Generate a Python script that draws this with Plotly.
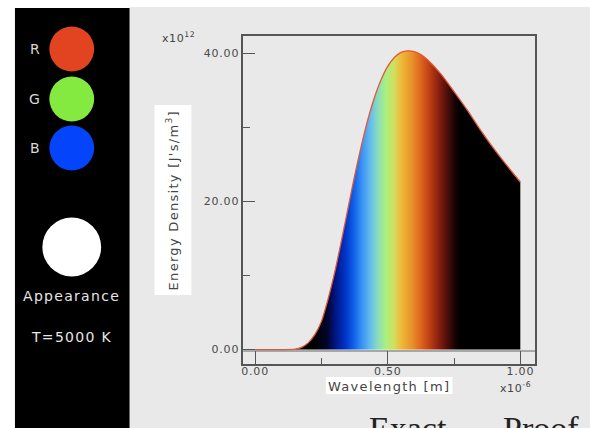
import plotly.graph_objects as go

# ---- data ----
wavelength = [0.00, 0.05, 0.10, 0.15, 0.175, 0.20, 0.225, 0.25, 0.275, 0.30, 0.325, 0.35,
              0.375, 0.40, 0.425, 0.45, 0.475, 0.50, 0.525, 0.55, 0.575, 0.60, 0.625,
              0.65, 0.70, 0.75, 0.80, 0.85, 0.90, 0.95, 1.00]          # x 1e-6 m
energy = [0.0, 0.0, 0.0, 0.05, 0.3, 0.9, 2.0, 3.8, 6.8, 10.4, 14.6, 19.0,
          23.4, 27.4, 31.0, 34.0, 36.4, 38.2, 39.4, 40.1, 40.3, 40.2, 39.8,
          39.1, 37.2, 34.8, 32.3, 29.6, 27.1, 24.8, 22.6]              # x 1e12
x_tickvals = [0.0, 0.5, 1.0]
x_ticktext = ["0.00", "0.50", "1.00"]
y_tickvals = [0, 20, 40]
y_ticktext = ["0.00", "20.00", "40.00"]
temperature_label = "T=5000 K"

W, H = 590, 428
def px(x): return x / W
def py(y): return 1 - y / H

def sp(t, ls=1.2):
    return f'<span style="letter-spacing:{ls}px">{t}</span>'

spectrum = [
    [0.00, "#000000"], [0.22, "#000000"], [0.27, "#000528"], [0.30, "#001480"],
    [0.34, "#0035c8"], [0.37, "#1060e8"], [0.40, "#3890f5"], [0.43, "#60b8f0"],
    [0.46, "#88dcc0"], [0.49, "#a8f080"], [0.52, "#d0e060"], [0.55, "#f0b838"],
    [0.59, "#e89028"], [0.62, "#e06820"], [0.66, "#b83a12"], [0.69, "#882010"],
    [0.72, "#501008"], [0.75, "#180404"], [0.77, "#000000"], [1.00, "#000000"],
]

fig = go.Figure()
fig.add_trace(go.Scatter(
    x=wavelength, y=energy, mode="lines",
    line=dict(color="#e2583a", width=1.3, shape="spline", smoothing=0.8),
    fill="tozeroy",
    fillgradient=dict(type="horizontal", colorscale=spectrum, start=0, stop=1),
    hoverinfo="skip", showlegend=False,
))

tickfont = dict(family="DejaVu Sans", size=11, color="#4a4a4a")
fig.update_xaxes(
    domain=[px(242), px(535)], range=[-0.045, 1.056],
    showline=True, linecolor="#555555", linewidth=1.5, mirror=True,
    ticks="inside", ticklen=13, tickwidth=1, tickcolor="#555555",
    tickvals=x_tickvals, ticktext=[sp(t, 0.8) for t in x_ticktext], tickfont=tickfont,
    ticklabelstandoff=-4,
    minor=dict(ticks="inside", ticklen=6, tickcolor="#555555", tickvals=[0.25, 0.75]),
    showgrid=False, zeroline=False,
)
fig.update_yaxes(
    domain=[py(364), py(36)], range=[-1.95, 42.3],
    showline=True, linecolor="#555555", linewidth=1.5, mirror=True,
    ticks="inside", ticklen=12, tickwidth=1, tickcolor="#555555",
    tickvals=y_tickvals, ticktext=[sp(t, 0.8) for t in y_ticktext], tickfont=tickfont,
    minor=dict(ticks="inside", ticklen=7, tickcolor="#555555", tickvals=[10, 30]),
    showgrid=False, zeroline=False,
)

shapes = [
    dict(type="rect", xref="paper", yref="paper", x0=px(128), x1=1, y0=0, y1=py(7),
         fillcolor="#e9e9e9", line=dict(width=0), layer="below"),
    dict(type="rect", xref="paper", yref="paper", x0=px(13), x1=px(128), y0=0, y1=py(8),
         fillcolor="#000000", line=dict(width=0), layer="below"),
    # x axis baseline
    dict(type="line", xref="paper", yref="paper", x0=px(242), x1=px(535), y0=py(351), y1=py(351),
         line=dict(color="#666666", width=1)),
    # white boxes behind axis titles
    dict(type="rect", xref="paper", yref="paper", x0=px(325), x1=px(452), y0=py(394), y1=py(377),
         fillcolor="#ffffff", line=dict(width=0), layer="below"),
    dict(type="rect", xref="paper", yref="paper", x0=px(153), x1=px(190), y0=py(295), y1=py(105),
         fillcolor="#ffffff", line=dict(width=0), layer="below"),
]
# colour swatches
for cy, r, col in [(49, 22.5, "#e24422"), (99, 22.5, "#84ea40"), (148, 22.5, "#0444fa"),
                   (247, 29.5, "#ffffff")]:
    shapes.append(dict(type="circle", xref="paper", yref="paper",
                       x0=px(70 - r), x1=px(70 + r), y0=py(cy + r), y1=py(cy - r),
                       fillcolor=col, line=dict(width=0)))

ann = []
def add(text, x, y, size=13, color="#444444", family="DejaVu Sans", xanchor="center",
        angle=0, yanchor="middle"):
    ann.append(dict(text=text, x=px(x), y=py(y), xref="paper", yref="paper", showarrow=False,
                    xanchor=xanchor, yanchor=yanchor, textangle=angle,
                    font=dict(family=family, size=size, color=color)))

add(sp("Wavelength [m]", 1.3), 388, 386)
add(sp("Energy Density [J's/m<sup>3</sup>]", 1.3), 171, 200, angle=-90)
add(sp("x10<sup>12</sup>", 0.6), 177, 37, size=11)
add(sp("x10<sup>-6</sup>", 0.6), 515, 387, size=11)
for lbl, y in [("R", 49), ("G", 99), ("B", 148)]:
    add(lbl, 33, y, size=14, color="#d8d8d8")
add(sp("Appearance", 1.3), 70, 296, size=14, color="#e6e6e6")
add(sp(temperature_label, 1.3), 70, 337, size=14, color="#e6e6e6")
add("Exact", 366, 428, size=34, color="#222222", family="Liberation Serif", xanchor="left")
add("Proof", 501, 428, size=34, color="#222222", family="Liberation Serif", xanchor="left")

fig.update_layout(
    width=W, height=H, margin=dict(l=0, r=0, t=0, b=0),
    paper_bgcolor="#ffffff", plot_bgcolor="#ffffff",
    shapes=shapes, annotations=ann, showlegend=False,
)
fig.write_html("out.html", config={"displayModeBar": False},
               post_script="document.body.style.margin='0';document.body.style.overflow='hidden';")
